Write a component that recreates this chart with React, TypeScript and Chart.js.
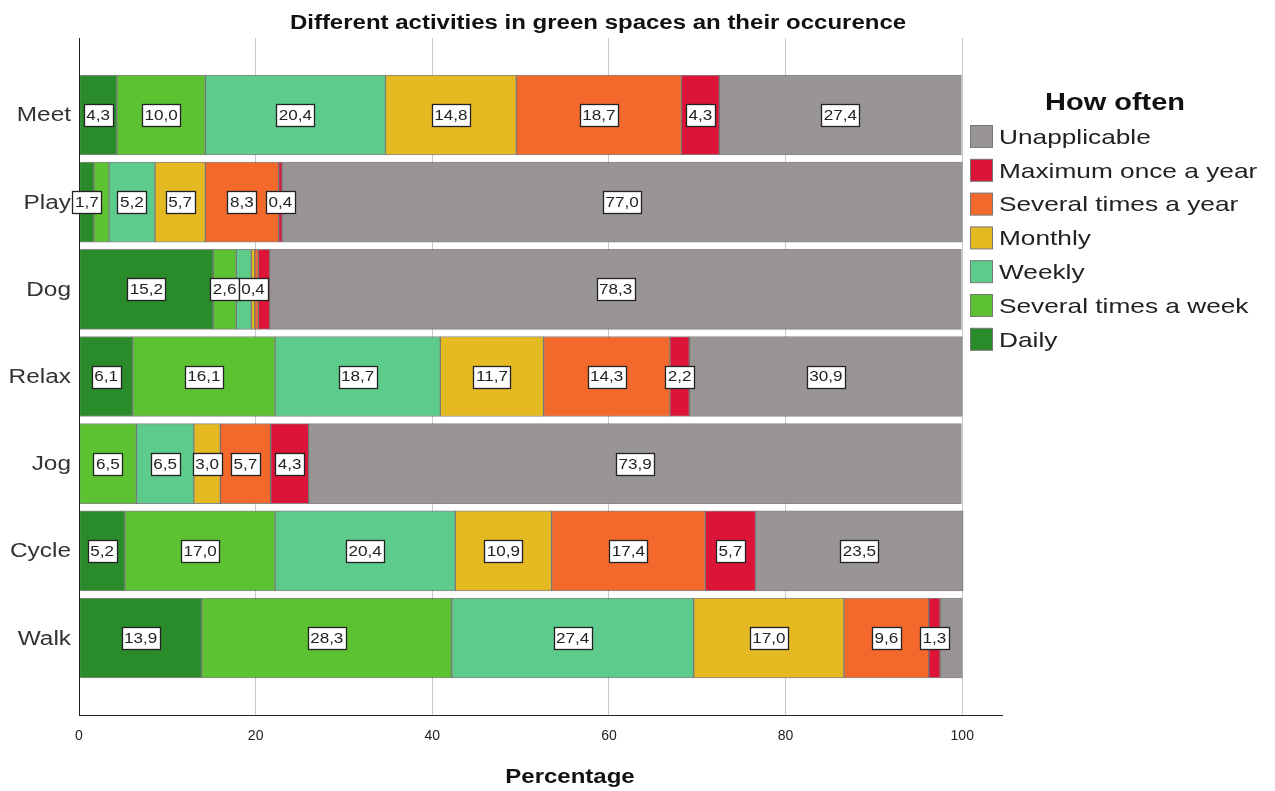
import React, { useEffect, useRef } from "react";
import { Chart, registerables } from "chart.js";

Chart.register(...registerables);

const TITLE = "Different activities in green spaces an their occurence";
const X_TITLE = "Percentage";
const LEGEND_TITLE = "How often";
const CATEGORIES = ["Meet", "Play", "Dog", "Relax", "Jog", "Cycle", "Walk"];
const X_TICKS = [0, 20, 40, 60, 80, 100];

const SERIES_NAMES = [
  "Daily",
  "Several times a week",
  "Weekly",
  "Monthly",
  "Several times a year",
  "Maximum once a year",
  "Unapplicable",
];
const SERIES_COLORS = ["#2a8b2a", "#5cc232", "#5ccb8b", "#e4b921", "#f2692b", "#dc1438", "#9a9595"];

const DAILY = [4.3, 1.7, 15.2, 6.1, 0, 5.2, 13.9];
const SEVERAL_WEEK = [10.0, 1.7, 2.6, 16.1, 6.5, 17.0, 28.3];
const WEEKLY = [20.4, 5.2, 1.7, 18.7, 6.5, 20.4, 27.4];
const MONTHLY = [14.8, 5.7, 0.4, 11.7, 3.0, 10.9, 17.0];
const SEVERAL_YEAR = [18.7, 8.3, 0.4, 14.3, 5.7, 17.4, 9.6];
const MAX_ONCE = [4.3, 0.4, 1.3, 2.2, 4.3, 5.7, 1.3];
const UNAPPLICABLE = [27.4, 77.0, 78.3, 30.9, 73.9, 23.5, 2.5];

const SERIES_VALUES = [DAILY, SEVERAL_WEEK, WEEKLY, MONTHLY, SEVERAL_YEAR, MAX_ONCE, UNAPPLICABLE];

// [categoryIndex, seriesIndex] pairs whose value label is not shown
const HIDDEN_LABELS: [number, number][] = [
  [1, 1],
  [2, 2],
  [2, 4],
  [2, 5],
  [4, 0],
  [6, 6],
];

const FONT = "'Liberation Sans', Arial, sans-serif";
const SX = 1.22;

function drawText(ctx: any, txt: string, x: number, y: number, align: string, sx: number) {
  ctx.save();
  ctx.translate(x, y);
  ctx.scale(sx, 1);
  ctx.textAlign = align;
  ctx.fillText(txt, 0, 0);
  ctx.restore();
}

export default function App() {
  const ref = useRef<HTMLCanvasElement | null>(null);

  useEffect(() => {
    if (!ref.current) return;
    const isHidden = (c: number, s: number) => HIDDEN_LABELS.some(([a, b]) => a === c && b === s);

    const labelPlugin = {
      id: "valueLabels",
      afterDatasetsDraw(chart: any) {
        const ctx = chart.ctx;
        ctx.save();
        ctx.font = `14px ${FONT}`;
        ctx.textBaseline = "middle";
        chart.data.datasets.forEach((ds: any, si: number) => {
          const meta = chart.getDatasetMeta(si);
          meta.data.forEach((el: any, ci: number) => {
            const v = SERIES_VALUES[si][ci];
            if (!v || isHidden(ci, si)) return;
            const txt = v.toFixed(1).replace(".", ",");
            const cx = (el.x + el.base) / 2;
            const cy = el.y;
            const w = Math.round(ctx.measureText(txt).width * SX + 5);
            const h = 22;
            const bx = Math.round(cx - w / 2) + 0.5;
            const by = Math.round(cy - h / 2) + 0.5;
            ctx.fillStyle = "#ffffff";
            ctx.fillRect(bx, by, w, h);
            ctx.strokeStyle = "#222";
            ctx.lineWidth = 1.3;
            ctx.strokeRect(bx, by, w, h);
            ctx.fillStyle = "#222";
            drawText(ctx, txt, cx, cy + 1, "center", SX);
          });
        });
        ctx.restore();
      },
    };

    const textPlugin = {
      id: "extraText",
      afterDraw(chart: any) {
        const ctx = chart.ctx;
        ctx.save();
        ctx.textBaseline = "middle";
        // y category labels
        ctx.fillStyle = "#333";
        ctx.font = `20px ${FONT}`;
        const ys = chart.scales.y;
        CATEGORIES.forEach((c, i) => {
          drawText(ctx, c, chart.chartArea.left - 8, ys.getPixelForValue(i) + 1, "right", SX);
        });
        ctx.fillStyle = "#111";
        ctx.font = `bold 20px ${FONT}`;
        drawText(ctx, TITLE, 590, 15, "center", 1.2);
        ctx.font = `bold 20px ${FONT}`;
        drawText(ctx, X_TITLE, 562, 769, "center", 1.2);
        // legend
        ctx.font = `bold 23px ${FONT}`;
        drawText(ctx, LEGEND_TITLE, 1037, 96, "left", 1.26);
        ctx.font = `21px ${FONT}`;
        const order = [6, 5, 4, 3, 2, 1, 0];
        order.forEach((si, k) => {
          const y = 129 + k * 33.8;
          ctx.fillStyle = SERIES_COLORS[si];
          ctx.fillRect(962.5, y - 11.5, 22, 22);
          ctx.strokeStyle = "#777";
          ctx.lineWidth = 1;
          ctx.strokeRect(962.5, y - 11.5, 22, 22);
          ctx.fillStyle = "#222";
          drawText(ctx, SERIES_NAMES[si], 991, y + 1, "left", 1.25);
        });
        ctx.restore();
      },
    };

    const chart = new Chart(ref.current, {
      type: "bar",
      data: {
        datasets: SERIES_NAMES.map((name, si) => ({
          label: name,
          data: SERIES_VALUES[si].map((v, ci) => ({ x: v, y: ci })),
          backgroundColor: SERIES_COLORS[si],
          borderColor: "rgba(40,40,40,0.55)",
          borderWidth: 1,
          borderSkipped: false,
          barThickness: 80,
        })),
      },
      options: {
        indexAxis: "y",
        animation: false,
        responsive: true,
        maintainAspectRatio: false,
        layout: { padding: { top: 30, right: 265, left: 0, bottom: 0 } },
        plugins: {
          legend: { display: false },
          title: { display: false },
          tooltip: { enabled: false },
        },
        scales: {
          x: {
            type: "linear",
            stacked: true,
            min: 0,
            max: 104.5,
            afterBuildTicks: (scale: any) => {
              scale.ticks = X_TICKS.map((v) => ({ value: v }));
            },
            afterFit: (scale: any) => {
              scale.height = 76;
            },
            grid: { color: "#c9c9c9", lineWidth: 1, drawTicks: false },
            border: { color: "#222", width: 1 },
            ticks: {
              padding: 13,
              color: "#222",
              font: { family: FONT, size: 14 },
              maxRotation: 0,
            },
          },
          y: {
            type: "linear",
            stacked: true,
            reverse: true,
            offset: false,
            min: -0.883,
            max: 6.883,
            afterBuildTicks: (scale: any) => {
              scale.ticks = CATEGORIES.map((_, i) => ({ value: i }));
            },
            afterFit: (scale: any) => {
              scale.width = 71;
            },
            grid: { display: false, drawTicks: false, offset: false },
            border: { color: "#222", width: 1 },
            ticks: { display: false },
          },
        },
      },
      plugins: [labelPlugin, textPlugin],
    } as any);
    return () => chart.destroy();
  }, []);

  return (
    <div style={{ width: 1259, height: 783, position: "relative" }}>
      <canvas ref={ref} />
    </div>
  );
}
